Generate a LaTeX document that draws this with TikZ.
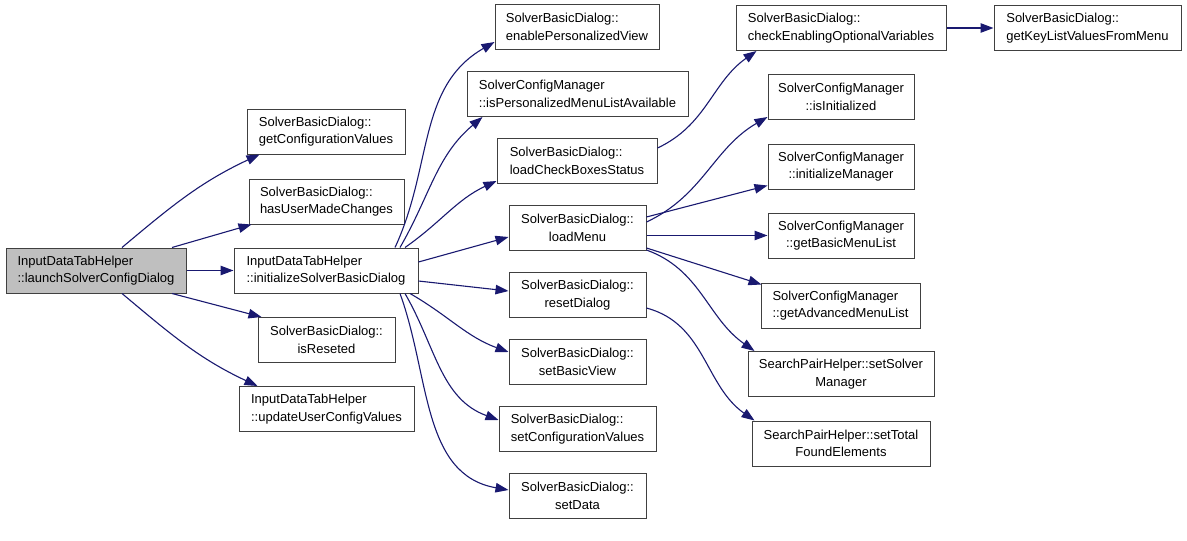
\documentclass[tikz,border=0pt]{standalone}
\usepackage{fontspec}
\setmainfont{Liberation Sans}
\usepackage{tikz}
\usetikzlibrary{arrows.meta, positioning, calc}

\definecolor{edgeblue}{HTML}{191970}
\definecolor{boxgray}{HTML}{404040}
\definecolor{rootfill}{HTML}{BFBFBF}

\begin{document}
\begin{tikzpicture}[
  x=1pt, y=1pt,
  fnbox/.style={rectangle, draw=boxgray, line width=1pt, minimum height=45pt, inner sep=0pt, align=center, font=\fontsize{13}{17.5}\selectfont},
  lbox/.style={fnbox, align=left},
  callarrow/.style={draw=edgeblue, line width=1.1pt, -{Triangle[length=13pt,width=9.5pt]}}
]
  \useasboundingbox (0,0) rectangle (1187,-541);

  % caller
  \node[lbox, fill=rootfill, minimum width=180pt] (launch) at (96,-270.5) {InputDataTabHelper\\::launchSolverConfigDialog};

  % first column
  \node[lbox, minimum width=158pt] (getconf) at (326,-131.5) {SolverBasicDialog::\\getConfigurationValues};
  \node[lbox, minimum width=155pt] (hasuser) at (326.5,-201.5) {SolverBasicDialog::\\hasUserMadeChanges};
  \node[lbox, minimum width=184pt] (initsbd) at (326,-270.5) {InputDataTabHelper\\::initializeSolverBasicDialog};
  \node[fnbox, minimum width=137pt] (isreset) at (326.5,-340) {SolverBasicDialog::\\isReseted};
  \node[lbox, minimum width=175pt] (updcfg) at (326.5,-409) {InputDataTabHelper\\::updateUserConfigValues};

  % second column
  \node[lbox, minimum width=164pt] (enablepv) at (577,-27) {SolverBasicDialog::\\enablePersonalizedView};
  \node[lbox, minimum width=221pt] (ispersml) at (577.5,-94) {SolverConfigManager\\::isPersonalizedMenuListAvailable};
  \node[lbox, minimum width=160pt] (loadcbs) at (577,-161) {SolverBasicDialog::\\loadCheckBoxesStatus};
  \node[fnbox, minimum width=137pt] (loadmenu) at (577.5,-228) {SolverBasicDialog::\\loadMenu};
  \node[fnbox, minimum width=137pt] (resetdlg) at (577.5,-295) {SolverBasicDialog::\\resetDialog};
  \node[fnbox, minimum width=137pt] (setbasic) at (577.5,-362) {SolverBasicDialog::\\setBasicView};
  \node[lbox, minimum width=157pt] (setconf) at (577.5,-429) {SolverBasicDialog::\\setConfigurationValues};
  \node[fnbox, minimum width=137pt] (setdata) at (577.5,-496) {SolverBasicDialog::\\setData};

  % third column
  \node[lbox, minimum width=210pt] (checkeov) at (841,-28) {SolverBasicDialog::\\checkEnablingOptionalVariables};
  \node[fnbox, minimum width=146pt] (isinit) at (841,-97) {SolverConfigManager\\::isInitialized};
  \node[fnbox, minimum width=146pt] (initmgr) at (841,-166.5) {SolverConfigManager\\::initializeManager};
  \node[fnbox, minimum width=146pt] (getbml) at (841,-235.5) {SolverConfigManager\\::getBasicMenuList};
  \node[lbox, minimum width=159pt] (getaml) at (840.5,-305.5) {SolverConfigManager\\::getAdvancedMenuList};
  \node[fnbox, minimum width=186pt] (setsm) at (841,-374) {SearchPairHelper::setSolver\\Manager};
  \node[fnbox, minimum width=178pt] (settfe) at (841,-443.5) {SearchPairHelper::setTotal\\FoundElements};

  % fourth column
  \node[lbox, minimum width=187pt] (getklv) at (1087.5,-28) {SolverBasicDialog::\\getKeyListValuesFromMenu};

  % calls from launch
  \draw[callarrow] ([xshift=26pt]launch.north) to[out=40,in=205] ([xshift=13pt]getconf.south west);
  \draw[callarrow] ([xshift=76pt]launch.north) -- ([xshift=3pt]hasuser.south west);
  \draw[callarrow] (launch.east) -- (initsbd.west);
  \draw[callarrow] ([xshift=76pt]launch.south) -- ([xshift=4pt]isreset.north west);
  \draw[callarrow] ([xshift=26pt]launch.south) to[out=-40,in=155] ([xshift=19pt]updcfg.north west);

  % calls from initializeSolverBasicDialog
  \draw[callarrow] ([xshift=69pt]initsbd.north) to[out=65,in=210] ([yshift=-15pt]enablepv.west);
  \draw[callarrow] ([xshift=74pt]initsbd.north) to[out=60,in=220] ([xshift=16pt]ispersml.south west);
  \draw[callarrow] ([xshift=79pt]initsbd.north) to[out=35,in=205] ([yshift=3pt]loadcbs.south west);
  \draw[callarrow] ([yshift=8.5pt]initsbd.east) -- ([yshift=-9pt]loadmenu.west);
  \draw[callarrow] ([yshift=-10.5pt]initsbd.east) -- ([yshift=4pt]resetdlg.west);
  \draw[callarrow] ([xshift=84pt]initsbd.south) to[out=-30,in=160] ([yshift=10pt]setbasic.west);
  \draw[callarrow] ([xshift=79pt]initsbd.south) to[out=-60,in=160] ([yshift=9pt]setconf.west);
  \draw[callarrow] ([xshift=74pt]initsbd.south) to[out=-70,in=170] ([yshift=6pt]setdata.west);

  % deeper calls
  \draw[callarrow] ([yshift=13pt]loadcbs.east) to[out=25,in=215] ([xshift=21pt]checkeov.south west);
  \draw[callarrow] (checkeov.east) -- (getklv.west);
  \draw[callarrow] ([yshift=6pt]loadmenu.east) to[out=25,in=210] ([yshift=3pt]isinit.south west);
  \draw[callarrow] ([yshift=11pt]loadmenu.east) -- ([yshift=4pt]initmgr.south west);
  \draw[callarrow] (loadmenu.east |- getbml.west) -- (getbml.west);
  \draw[callarrow] ([yshift=3pt]loadmenu.south east) -- ([xshift=1pt,yshift=-2pt]getaml.north west);
  \draw[callarrow] ([yshift=1pt]loadmenu.south east) to[out=-20,in=145] ([xshift=7pt]setsm.north west);
  \draw[callarrow] ([yshift=-13pt]resetdlg.east) to[out=-15,in=145] ([xshift=3pt]settfe.north west);
\end{tikzpicture}
\end{document}
